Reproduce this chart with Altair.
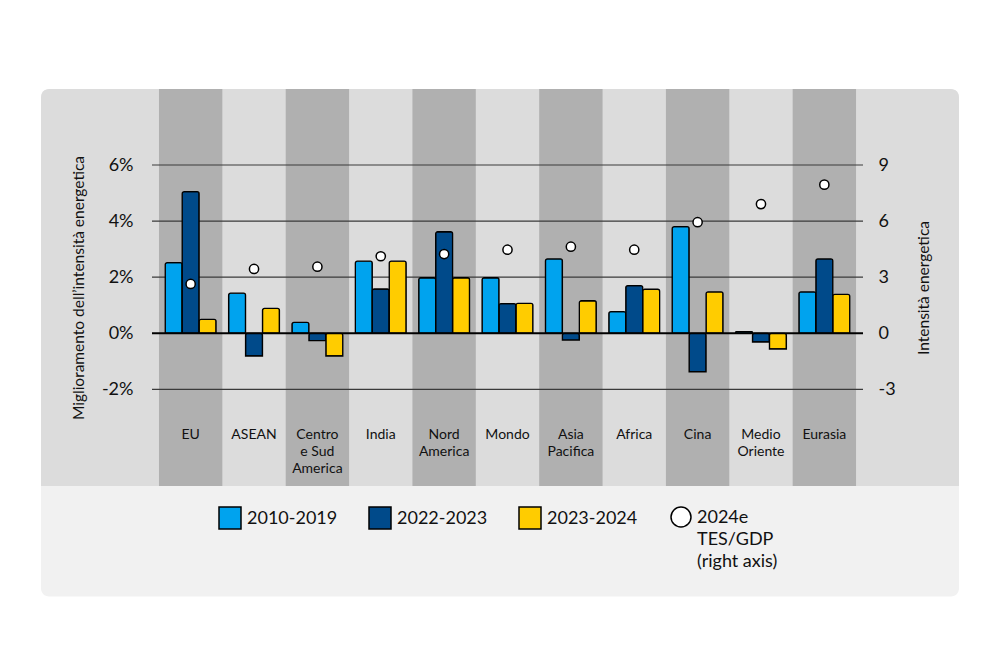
import altair as alt
import pandas as pd

# ---------------- data ----------------
categories = ["EU", "ASEAN", "Centro e Sud America", "India", "Nord America", "Mondo",
              "Asia Pacifica", "Africa", "Cina", "Medio Oriente", "Eurasia"]
category_labels = ["EU", "ASEAN", "Centro\ne Sud\nAmerica", "India", "Nord\nAmerica", "Mondo",
                   "Asia\nPacifica", "Africa", "Cina", "Medio\nOriente", "Eurasia"]
bar_series = ["2010-2019", "2022-2023", "2023-2024"]
point_series = "2024e TES/GDP (right axis)"
point_series_lines = ["2024e", "TES/GDP", "(right axis)"]

v_2010_2019 = [2.52, 1.43, 0.39, 2.57, 1.98, 1.98, 2.65, 0.77, 3.80, 0.06, 1.48]
v_2022_2023 = [5.05, -0.81, -0.26, 1.58, 3.62, 1.06, -0.24, 1.70, -1.37, -0.31, 2.65]
v_2023_2024 = [0.50, 0.89, -0.81, 2.57, 1.98, 1.07, 1.16, 1.57, 1.48, -0.56, 1.39]
tes_gdp_2024e = [2.64, 3.44, 3.56, 4.12, 4.24, 4.47, 4.63, 4.47, 5.94, 6.91, 7.95]

left_ticks = [-2, 0, 2, 4, 6]
right_ticks = [-3, 0, 3, 6, 9]
grid_values = [-2, 2, 4, 6]

bar_colors = ["#00a3ee", "#004a8a", "#ffcc00"]

FONT = "Lato"

# ---------------- tables ----------------
rows = []
for s, vals in zip(bar_series, [v_2010_2019, v_2022_2023, v_2023_2024]):
    for c, v in zip(categories, vals):
        rows.append({"category": c, "series": s, "value": v})
bars_df = pd.DataFrame(rows)
points_df = pd.DataFrame({"category": categories, "series": point_series, "value": tes_gdp_2024e})
labels_df = pd.DataFrame({"category": categories, "label": category_labels})
bands_df = pd.DataFrame({"category": categories[::2]})
grid_df = pd.DataFrame({"value": grid_values})
zero_df = pd.DataFrame({"value": [0]})

W, H = 711, 397

x_scale = alt.Scale(domain=categories, paddingInner=0, paddingOuter=0.11)
yl_scale = alt.Scale(domain=[-5.444, 8.71], nice=False, zero=False)
yr_scale = alt.Scale(domain=[-8.166, 13.065], nice=False, zero=False)

bar_legend = alt.Legend(
    title=None, orient="none", legendX=66, legendY=417, direction="horizontal",
    columns=3, columnPadding=28, padding=0, symbolType="square",
    symbolSize=484, symbolStrokeColor="black", symbolStrokeWidth=1.5, symbolOpacity=1,
    labelFont=FONT, labelFontSize=18, labelColor="#111", labelOffset=5, labelLimit=0,
    labelBaseline="top",
)

lines_js = "[" + ", ".join(f"'{t}'" for t in point_series_lines) + "]"
point_legend = alt.Legend(
    title=None, orient="none", legendX=518, legendY=417, padding=0, symbolType="circle",
    symbolSize=400, symbolStrokeWidth=1.5, symbolOpacity=1,
    labelFont=FONT, labelFontSize=18, labelColor="#111", labelOffset=5, labelLimit=0,
    labelBaseline="top", labelExpr=lines_js,
)

x_enc = alt.X("category:N", scale=x_scale, axis=None)

# ---------------- decoration ----------------
card = alt.Chart(alt.Data(values=[{}])).mark_rect(
    fill="#f1f1f1", cornerRadius=8
).encode(x=alt.value(-111), x2=alt.value(807), y=alt.value(0), y2=alt.value(507.5))

card_top = alt.Chart(alt.Data(values=[{}])).mark_rect(
    fill="#dcdcdc", cornerRadiusTopLeft=8, cornerRadiusTopRight=8
).encode(x=alt.value(-111), x2=alt.value(807), y=alt.value(0), y2=alt.value(H))

bands = alt.Chart(bands_df).mark_rect(fill="#b0b0b0").encode(
    x=x_enc, y=alt.value(0), y2=alt.value(H)
)

# ---------------- left axis layer ----------------
left_axis = alt.Axis(
    values=left_ticks, labelExpr="datum.value + '%'", labelFont=FONT, labelFontSize=18,
    labelColor="#111", labelPadding=19, labelOffset=8, ticks=False, domain=False, grid=False,
    title="Miglioramento dell’intensità energetica", titleFont=FONT, titleFontSize=15.5,
    titleFontWeight="normal", titleColor="#111", titleX=-74, titleY=H / 2,
    titleAngle=270, titleAlign="center", titleBaseline="middle", zindex=2,
)
y_left = alt.Y("value:Q", scale=yl_scale, axis=left_axis)

grid = alt.Chart(grid_df).mark_rule(color="#3a3a3a", strokeWidth=1.2).encode(y=y_left)

bars = alt.Chart(bars_df).mark_bar(
    stroke="black", strokeWidth=1.3, cornerRadiusEnd=2
).encode(
    x=x_enc,
    xOffset=alt.XOffset("series:N", sort=bar_series,
                        scale=alt.Scale(paddingInner=0, paddingOuter=0.37)),
    y=y_left,
    color=alt.Color("series:N", scale=alt.Scale(domain=bar_series, range=bar_colors),
                    legend=bar_legend),
)

zero = alt.Chart(zero_df).mark_rule(color="black", strokeWidth=2).encode(y=y_left)

left_layer = alt.layer(grid, bars, zero)

# ---------------- right axis layer ----------------
right_axis = alt.Axis(
    orient="right", values=right_ticks, labelExpr="'' + datum.value", labelFont=FONT,
    labelFontSize=18, labelColor="#111", labelPadding=15, labelOffset=8, ticks=False,
    domain=False, grid=False,
    title="Intensità energetica", titleFont=FONT, titleFontSize=15.5, titleFontWeight="normal",
    titleColor="#111", titleX=60, titleY=H / 2, titleAngle=270, titleAlign="center",
    titleBaseline="middle", zindex=2,
)

points = alt.Chart(points_df).mark_point(
    filled=False, fill="white", size=85, stroke="black", strokeWidth=1.5, opacity=1
).encode(
    x=x_enc,
    y=alt.Y("value:Q", scale=yr_scale, axis=right_axis),
    shape=alt.Shape("series:N", scale=alt.Scale(domain=[point_series], range=["circle"]),
                    legend=point_legend),
)

# ---------------- category labels ----------------
labels = alt.Chart(labels_df).mark_text(
    baseline="top", align="center", lineBreak="\n", lineHeight=17,
    font=FONT, fontSize=14, color="#111"
).encode(x=x_enc, y=alt.value(339), text="label:N")

chart = alt.layer(card, card_top, bands, left_layer, points, labels).resolve_scale(
    y="independent"
).properties(
    width=W, height=H,
    padding={"left": 144, "top": 81, "right": 125, "bottom": 120},
    autosize=alt.AutoSizeParams(type="none"),
    background="white",
).configure(
    style={"guide-label": {"dy": -8, "lineHeight": 22}}
).configure_view(stroke=None)

chart.save("out.html", embed_options={"renderer": "svg", "actions": False})
